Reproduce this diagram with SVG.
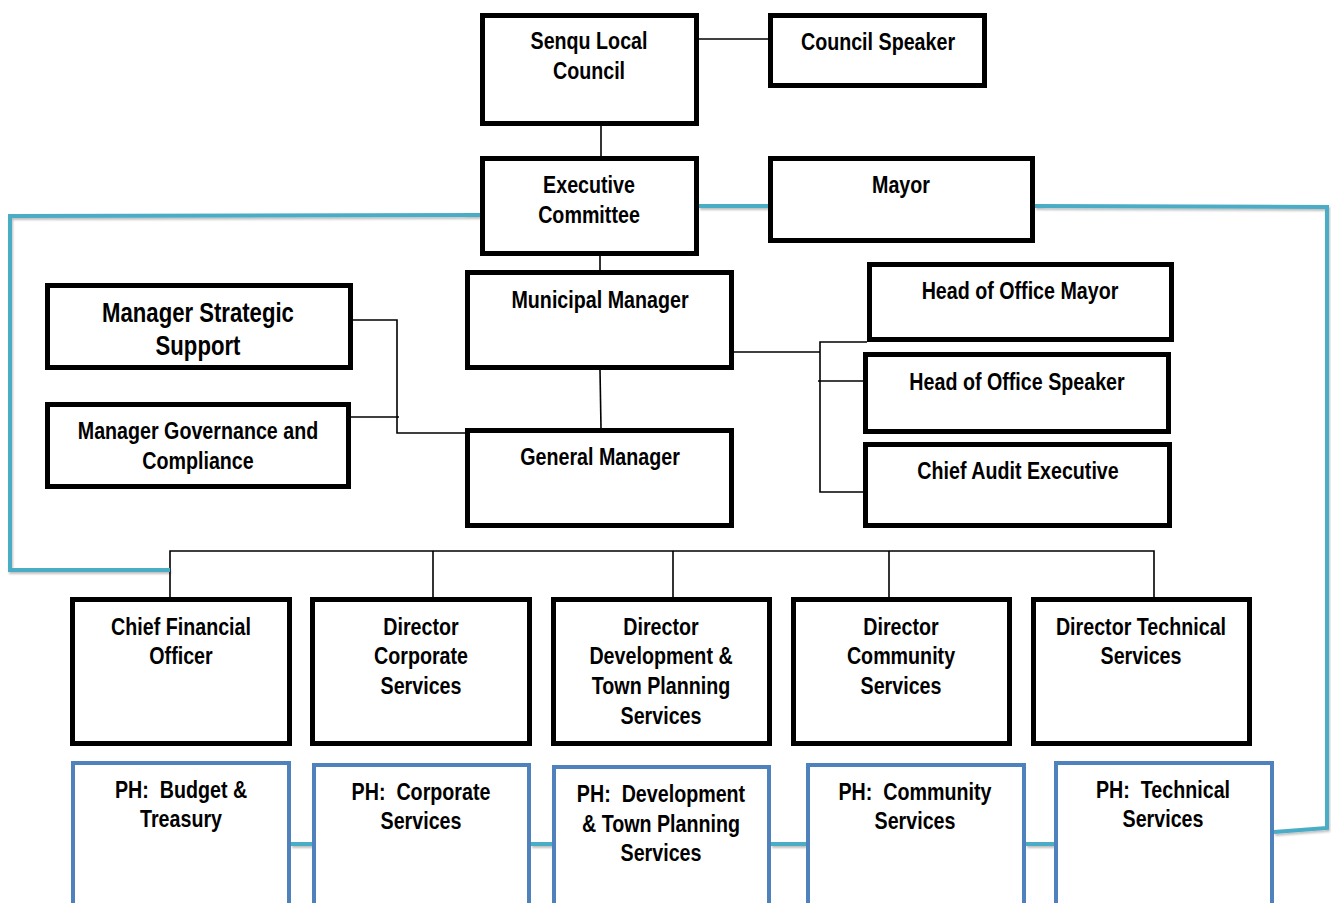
<svg xmlns="http://www.w3.org/2000/svg" width="1331" height="903" viewBox="0 0 1331 903">
<style>
.b{fill:#fff;stroke:#000;stroke-width:5}
.p{fill:#fff;stroke:#4F81BD;stroke-width:4}
.c{fill:none;stroke:#000;stroke-width:1.6}
.t{fill:none;stroke:#4BACC6;stroke-width:4;filter:url(#sh)}
text{font-family:"Liberation Sans Narrow","Liberation Sans",Arial,sans-serif;font-weight:bold;font-size:24px;text-anchor:middle;fill:#000;white-space:pre}
.lg{font-size:27px}
</style>
<defs>
<filter id="sh" filterUnits="userSpaceOnUse" x="0" y="0" width="1331" height="903">
<feDropShadow dx="1" dy="2" stdDeviation="1.2" flood-color="#000" flood-opacity="0.25"/>
</filter>
</defs>
<g id="connectors">
<line class="c" x1="699" y1="39" x2="768" y2="39"/>
<line class="c" x1="601" y1="126" x2="601" y2="156"/>
<line class="c" x1="600" y1="256" x2="600" y2="270"/>
<line class="c" x1="600" y1="370" x2="601" y2="428"/>
<polyline class="c" points="734,352 820,352"/>
<polyline class="c" points="867,342 820,342 820,492 863,492"/>
<line class="c" x1="818" y1="381" x2="863" y2="381"/>
<polyline class="c" points="353,320 397,320 397,433 465,433"/>
<line class="c" x1="351" y1="417" x2="399" y2="417"/>
<polyline class="c" points="170,597 170,551 1154,551 1154,597"/>
<line class="c" x1="433" y1="551" x2="433" y2="597"/>
<line class="c" x1="673" y1="551" x2="673" y2="597"/>
<line class="c" x1="889" y1="551" x2="889" y2="597"/>
<line class="t" x1="699" y1="206" x2="768" y2="206"/>
<polyline class="t" points="480,215 10,216 10,570 170,570"/>
<polyline class="t" points="1035,206 1327,207 1327,828 1274,832"/>
<line class="t" x1="291" y1="844" x2="312" y2="844"/>
<line class="t" x1="531" y1="844" x2="552" y2="844"/>
<line class="t" x1="771" y1="844" x2="806" y2="844"/>
<line class="t" x1="1026" y1="844" x2="1054" y2="844"/>
</g>
<g id="senqu"><rect class="b" x="482.5" y="15.5" width="214" height="108"/><text transform="translate(589 49) scale(.82 1)">Senqu Local</text><text transform="translate(589 79) scale(.82 1)">Council</text></g>
<g id="speaker"><rect class="b" x="770.5" y="15.5" width="214" height="70"/><text transform="translate(878 49.5) scale(.82 1)">Council Speaker</text></g>
<g id="exco"><rect class="b" x="482.5" y="158.5" width="214" height="95"/><text transform="translate(589 192.5) scale(.82 1)">Executive</text><text transform="translate(589 222.5) scale(.82 1)">Committee</text></g>
<g id="mayor"><rect class="b" x="770.5" y="158.5" width="262" height="82"/><text transform="translate(901 192.5) scale(.82 1)">Mayor</text></g>
<g id="mm"><rect class="b" x="467.5" y="272.5" width="264" height="95"/><text transform="translate(600 307.5) scale(.82 1)">Municipal Manager</text></g>
<g id="mss"><rect class="b" x="47.5" y="285.5" width="303" height="82"/><text class="lg" transform="translate(198 322) scale(.82 1)">Manager Strategic</text><text class="lg" transform="translate(198 355) scale(.82 1)">Support</text></g>
<g id="mgc"><rect class="b" x="47.5" y="404.5" width="301" height="82"/><text transform="translate(198 438.5) scale(.82 1)">Manager Governance and</text><text transform="translate(198 468.5) scale(.82 1)">Compliance</text></g>
<g id="gm"><rect class="b" x="467.5" y="430.5" width="264" height="95"/><text transform="translate(600 464.5) scale(.82 1)">General Manager</text></g>
<g id="hom"><rect class="b" x="869.5" y="264.5" width="302" height="75"/><text transform="translate(1020 298.5) scale(.82 1)">Head of Office Mayor</text></g>
<g id="hos"><rect class="b" x="865.5" y="354.5" width="303" height="77"/><text transform="translate(1017 389.5) scale(.82 1)">Head of Office Speaker</text></g>
<g id="cae"><rect class="b" x="865.5" y="444.5" width="304" height="81"/><text transform="translate(1018 478.5) scale(.82 1)">Chief Audit Executive</text></g>
<g id="cfo"><rect class="b" x="72.5" y="599.5" width="217" height="144"/><text transform="translate(181 634.5) scale(.82 1)">Chief Financial</text><text transform="translate(181 663.5) scale(.82 1)">Officer</text></g>
<g id="dcs"><rect class="b" x="312.5" y="599.5" width="217" height="144"/><text transform="translate(421 634.5) scale(.82 1)">Director</text><text transform="translate(421 663.5) scale(.82 1)">Corporate</text><text transform="translate(421 693.5) scale(.82 1)">Services</text></g>
<g id="ddt"><rect class="b" x="553.5" y="599.5" width="216" height="144"/><text transform="translate(661 634.5) scale(.82 1)">Director</text><text transform="translate(661 663.5) scale(.82 1)">Development &amp;</text><text transform="translate(661 693.5) scale(.82 1)">Town Planning</text><text transform="translate(661 723.5) scale(.82 1)">Services</text></g>
<g id="dcom"><rect class="b" x="793.5" y="599.5" width="216" height="144"/><text transform="translate(901 634.5) scale(.82 1)">Director</text><text transform="translate(901 663.5) scale(.82 1)">Community</text><text transform="translate(901 693.5) scale(.82 1)">Services</text></g>
<g id="dts"><rect class="b" x="1033.5" y="599.5" width="216" height="144"/><text transform="translate(1141 634.5) scale(.82 1)">Director Technical</text><text transform="translate(1141 663.5) scale(.82 1)">Services</text></g>
<g id="phb"><rect class="p" x="73" y="763" width="216" height="160"/><text transform="translate(181 797.5) scale(.82 1)">PH:  Budget &amp;</text><text transform="translate(181 826.5) scale(.82 1)">Treasury</text></g>
<g id="phc"><rect class="p" x="314" y="765" width="215" height="160"/><text transform="translate(421 799.5) scale(.82 1)">PH:  Corporate</text><text transform="translate(421 828.5) scale(.82 1)">Services</text></g>
<g id="phd"><rect class="p" x="554" y="767" width="215" height="160"/><text transform="translate(661 801.5) scale(.82 1)">PH:  Development</text><text transform="translate(661 831.5) scale(.82 1)">&amp; Town Planning</text><text transform="translate(661 860.5) scale(.82 1)">Services</text></g>
<g id="phcom"><rect class="p" x="808" y="765" width="216" height="160"/><text transform="translate(915 799.5) scale(.82 1)">PH:  Community</text><text transform="translate(915 828.5) scale(.82 1)">Services</text></g>
<g id="pht"><rect class="p" x="1056" y="763" width="216" height="160"/><text transform="translate(1163 797.5) scale(.82 1)">PH:  Technical</text><text transform="translate(1163 826.5) scale(.82 1)">Services</text></g>
</svg>
